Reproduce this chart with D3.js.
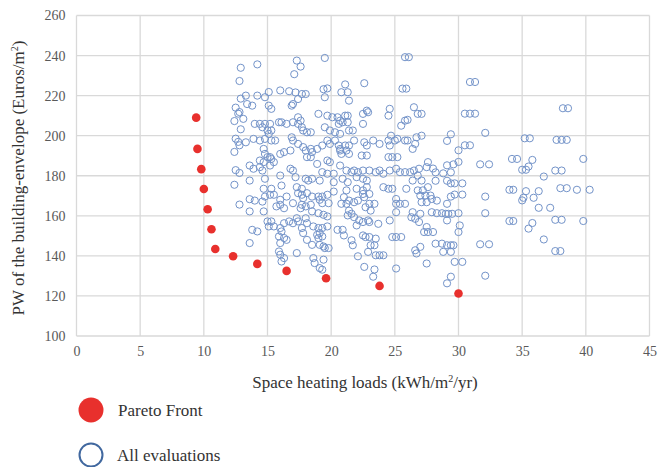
<!DOCTYPE html>
<html>
<head>
<meta charset="utf-8">
<script src="https://cdn.jsdelivr.net/npm/d3@7"></script>
<style>
  body { margin: 0; background: #fff; }
  svg { font-family: "Liberation Serif", "Times New Roman", serif; }
</style>
</head>
<body>
<svg id="chart" width="666" height="467"></svg>
<script>
const xTicks = [0, 5, 10, 15, 20, 25, 30, 35, 40, 45]
const yTicks = [100, 120, 140, 160, 180, 200, 220, 240, 260]

// red dots
const paretoFront = [
  [9.4, 209.0], [9.5, 193.4], [9.8, 183.3], [10.0, 173.4], [10.3, 163.3],
  [10.6, 153.3], [10.9, 143.4], [12.3, 139.8], [14.2, 136.0], [16.5, 132.5],
  [19.6, 128.8], [23.8, 125.0], [30.0, 121.2]
]

// hollow circles, split by load band
const evalsLow = [
  [12.9,233.9],[12.8,227.3],[12.9,218.5],[12.5,214.0],[12.8,211.8],[12.7,211.0],[12.4,207.3],[12.9,203.2],
  [12.5,198.5],[12.7,196.9],[12.8,195.2],[12.4,191.9],[12.5,182.8],[12.8,181.4],[12.4,175.5],[12.8,165.6],
  [14.2,235.6],[15.1,221.8],[16.0,222.6],[17.3,237.5],[17.6,234.5],[17.1,230.7],[19.5,238.8],[19.7,223.6],
  [19.4,223.2],[16.7,222.2],[17.2,221.6],
  [13.3,220.0],[14.2,220.0],[14.8,219.2],[13.4,215.8],[13.8,215.0],[15.1,215.0],[15.3,213.4],[16.9,215.0],
  [17.0,215.8],[17.4,218.3],[17.7,220.8],[18.0,220.8],[19.5,219.2],[19.0,210.9],[19.7,210.0],[20.1,209.2],
  [20.5,209.2],[20.6,205.9],[13.1,208.4],[14.0,205.9],[14.4,205.9],[14.6,204.2],[14.8,205.9],[15.2,205.9],
  [15.0,202.6],[15.1,200.9],[15.3,202.6],[15.9,206.7],[16.1,206.7],[16.5,205.9],[17.0,206.7],[17.4,205.9],
  [17.7,204.2],[17.8,202.6],[18.1,201.7],[18.4,201.7],[17.4,209.2],[17.6,207.5],[19.5,204.2],[19.9,202.6],
  [20.3,201.7],[20.7,200.9],[13.3,196.7],[13.9,198.4],[14.4,197.6],[14.8,198.4],[15.3,197.6],[15.6,197.6],
  [16.9,199.2],[17.0,197.6],[17.4,195.9],[17.8,194.3],[18.0,192.6],[18.4,193.4],[18.5,191.8],[18.9,193.4],
  [19.3,195.1],[19.7,197.6],[19.9,195.9],[20.3,197.6],[20.6,195.1],[20.7,192.6],[14.7,193.4],[14.8,190.9],
  [15.0,189.3],[15.2,189.3],[15.3,188.4],[15.5,186.8],[15.2,185.1],[16.0,190.9],[16.3,191.8],[16.8,192.6],
  [14.4,187.6],[14.7,186.8],[14.6,182.6],[14.4,184.3],[13.9,183.5],[13.6,185.1],[16.8,183.5],[17.0,182.6],
  [18.1,189.3],[18.4,189.3],[18.9,185.9],[19.7,187.6],[19.9,186.8],[19.3,181.8],[19.7,181.0],[20.2,181.0],
  [13.6,177.6],[14.8,178.5],[14.7,173.5],[15.3,173.5],[16.0,180.1],[16.1,175.1],[17.2,179.3],[17.3,174.3],
  [17.7,173.5],[18.0,178.5],[18.2,177.6],[18.5,178.5],[19.1,177.6],[20.2,176.8],
  [13.6,168.3],[14.0,167.6],[14.6,167.1],[14.8,169.6],[15.2,170.5],[15.5,170.5],[16.0,165.5],[16.3,163.8],
  [15.7,164.7],[16.5,169.6],[17.4,171.3],[17.7,170.5],[17.8,168.8],[18.1,171.3],[18.5,169.6],[19.0,169.6],
  [19.3,169.6],[19.1,168.0],[19.3,166.3],[19.7,170.5],[19.8,166.3],[20.2,172.1],[17.7,165.5],[18.0,164.7],
  [18.4,165.5],[18.5,162.2],[19.0,161.3],[19.4,160.5],[19.7,159.7],[13.6,162.2],[14.7,162.2],[16.0,168.0],
  [17.0,166.3],[17.6,163.8],[15.0,157.2],[15.3,157.2],[15.1,154.7],[15.5,154.7],[16.3,156.3],[16.7,157.2],
  [17.0,156.3],[17.3,158.8],[17.4,157.2],[18.0,158.8],[18.1,156.3],[18.6,154.7],[19.0,153.9],[19.3,153.9],
  [19.1,151.4],[18.9,150.5],[19.3,149.7],[19.7,154.7],[20.5,153.0],[13.8,153.0],[14.2,152.2],[13.6,146.4],
  [16.0,153.9],[16.1,152.2],[15.9,149.7],[16.3,148.9],[16.5,148.0],[16.0,146.4],[17.7,153.9],[17.8,151.4],
  [18.1,148.0],[18.5,145.5],[19.1,145.5],[19.4,144.7],[19.5,143.9],[19.8,143.9],[19.0,148.9],[15.9,142.2],
  [16.0,140.6],[16.3,138.9],[16.1,137.2],[17.3,141.4],[18.6,138.9],[18.7,136.4],[19.1,133.9],[19.3,133.1],
  [19.4,138.1]
]

const evalsMid = [
  [20.8,221.7],[21.3,221.7],[21.4,217.5],[22.8,212.5],[22.5,210.9],[22.9,211.7],[24.6,213.4],[24.5,210.0],
  [26.5,214.2],[26.8,210.9],[27.1,210.9],[21.1,210.0],[21.3,210.0],[20.7,207.5],[20.9,206.7],[21.3,206.7],
  [22.5,205.9],[25.5,205.0],[25.8,207.5],[26.0,207.9],[21.4,202.6],[21.7,202.6],[27.1,200.0],[20.7,193.4],
  [21.1,195.1],[21.4,195.1],[21.2,192.6],[20.8,190.9],[21.4,190.9],[21.8,197.6],[22.6,196.7],[22.8,195.1],
  [23.3,197.6],[23.8,195.9],[24.5,197.6],[24.6,195.1],[25.0,197.6],[25.2,198.4],[24.7,200.0],[25.8,197.6],
  [26.0,197.6],[26.7,199.2],[26.6,195.9],[26.4,193.4],[22.4,190.1],[22.8,190.1],[24.5,189.3],[24.8,189.3],
  [25.2,189.3],[27.6,186.8],[27.5,184.3],[26.9,183.5],[26.5,182.6],[26.2,181.8],[25.8,181.8],[26.8,180.1],
  [26.4,177.6],[27.1,177.6],[20.7,185.1],[21.2,182.6],[21.6,181.8],[21.8,182.6],[22.1,181.8],[22.5,182.6],
  [23.0,182.6],[23.5,181.8],[23.8,182.6],[24.1,181.0],[24.6,182.6],[25.1,183.5],[25.4,181.8],[20.9,178.5],
  [21.3,176.8],[22.0,179.3],[22.5,178.5],[22.8,177.6],[24.1,174.3],[24.5,173.5],[24.8,173.5],[21.2,172.7],
  [22.0,173.5],[22.5,172.7],[22.8,174.3],[25.9,173.5],[26.8,172.7],[27.2,172.7],[27.6,174.3],
  [21.1,225.6],[22.6,226.2],[21.0,169.3],[21.4,167.6],[21.8,166.8],[22.1,167.6],[21.2,166.0],[20.8,166.0],
  [22.5,170.9],[23.0,170.9],[22.6,169.3],[21.4,162.6],[21.6,161.0],[21.3,160.2],[21.8,159.3],[22.2,157.7],
  [22.5,156.9],[22.9,157.7],[23.0,156.9],[22.0,155.2],[23.7,156.0],[20.9,153.0],[21.0,150.2],[21.6,147.8],
  [21.7,145.3],[22.5,150.2],[22.7,149.4],[23.0,149.4],[23.5,148.6],[23.1,145.3],[23.4,145.3],[22.1,139.8],
  [22.9,142.0],[23.5,140.3],[23.8,140.3],[24.1,140.3],[22.6,134.5],[23.4,133.2],[23.3,129.6],[24.6,157.7],
  [25.1,161.8],[25.1,168.4],[25.1,166.0],[24.8,149.4],[25.1,149.4],[25.1,133.7],[23.0,166.0],[23.4,166.0],
  [23.1,162.6],[22.7,164.3]
]

const evalsHigh = [
  [25.8,239.2],[26.1,239.2],[30.9,226.8],[31.3,226.8],[25.6,223.5],[25.9,223.5],[30.5,211.0],[30.9,211.0],
  [31.3,211.0],[29.4,200.7],[29.1,197.4],[32.1,201.4],[30.5,195.2],[30.9,195.2],[30.0,192.7],[30.0,186.9],
  [31.7,185.7],[32.4,185.7],[28.0,183.6],[29.1,185.2],[29.6,185.7],[28.2,181.7],[28.8,181.2],[29.4,181.7],
  [28.2,177.5],[29.1,177.5],[29.4,176.2],[29.7,176.2],[30.3,176.2],[32.1,169.6],[29.7,170.6],[30.3,170.6],
  [27.0,170.1],[27.4,170.1],[27.8,170.1],[27.9,168.4],[27.5,166.8],[27.1,166.8],[28.3,167.6],[29.4,169.6],
  [29.1,166.0],[25.4,166.0],[25.8,166.0],[26.4,161.8],[26.3,159.3],[26.6,158.5],[27.0,161.0],[26.9,156.9],
  [27.9,161.8],[28.3,161.3],[28.7,161.3],[29.0,161.0],[29.2,161.0],[29.5,161.0],[30.0,161.3],[29.1,157.7],
  [32.1,161.3],[27.3,151.9],[27.6,151.9],[28.0,151.9],[27.5,154.4],[30.0,151.9],[30.1,155.2],[25.5,149.4],
  [28.2,146.1],[28.7,146.1],[29.1,145.3],[29.4,145.3],[29.6,145.3],[26.6,142.8],[26.7,141.2],[27.0,144.5],
  [28.8,142.0],[29.4,142.0],[31.7,145.8],[32.4,145.8],[27.5,136.2],[29.7,137.0],[30.3,137.0],[29.4,129.6],
  [29.1,126.3],[32.1,130.1],
  [38.2,213.7],[38.6,213.7],[35.2,198.7],[35.6,198.7],[37.7,197.9],[38.1,197.9],[38.5,197.9],[34.2,188.4],
  [34.6,188.4],[35.8,187.9],[39.8,188.4],[35.0,183.0],[35.3,183.0],[35.5,184.6],[37.6,182.6],[38.1,182.6],
  [36.7,179.6],[34.0,173.0],[34.3,173.0],[35.3,172.3],[36.3,172.3],[35.9,169.0],[38.0,173.8],[38.5,173.8],
  [39.3,173.0],[40.3,173.0],[35.1,169.0],[35.0,167.7],[36.3,164.0],[37.2,164.0],[34.0,157.4],[34.3,157.4],
  [35.8,156.4],[35.5,153.6],[37.6,158.0],[38.1,158.0],[39.8,157.4],[36.7,148.2],[37.6,142.4],[38.0,142.4]
]

const allEvaluations = evalsLow.concat(evalsMid, evalsHigh)

const svg = d3.select('#chart')
const plotLeft = 76.5, plotRight = 649.5, plotTop = 15.5, plotBottom = 336

const xScale = d3.scaleLinear().domain([0, 45]).range([plotLeft, plotRight])
const yScale = d3.scaleLinear().domain([100, 260]).range([plotBottom, plotTop])

// grid
svg.append('g').selectAll('line')
  .data(xTicks).enter().append('line')
  .attr('x1', d => xScale(d)).attr('x2', d => xScale(d))
  .attr('y1', plotTop).attr('y2', plotBottom)
  .attr('stroke', '#d9d9d9').attr('stroke-width', 1.3)

svg.append('g').selectAll('line')
  .data(yTicks).enter().append('line')
  .attr('x1', plotLeft).attr('x2', plotRight)
  .attr('y1', d => yScale(d)).attr('y2', d => yScale(d))
  .attr('stroke', '#d9d9d9').attr('stroke-width', 1.3)

const xAxis = d3.axisBottom(xScale).tickValues(xTicks).tickSize(0).tickPadding(10)
const yAxis = d3.axisLeft(yScale).tickValues(yTicks).tickSize(0).tickPadding(11)

const gx = svg.append('g')
  .attr('transform', `translate(0, ${plotBottom})`)
  .call(xAxis)
const gy = svg.append('g')
  .attr('transform', `translate(${plotLeft}, 0)`)
  .call(yAxis)

;[gx, gy].forEach(g => {
  g.select('.domain').remove()
  g.selectAll('text')
    .attr('font-family', '"Liberation Serif", serif')
    .attr('font-size', 14)
    .attr('fill', '#595959')
})

// all evaluations
svg.append('g').selectAll('circle')
  .data(allEvaluations).enter().append('circle')
  .attr('cx', d => xScale(d[0]))
  .attr('cy', d => yScale(d[1]))
  .attr('r', 3.6)
  .attr('fill', 'none')
  .attr('stroke', '#7393c9')
  .attr('stroke-width', 1)

// pareto front
svg.append('g').selectAll('circle')
  .data(paretoFront).enter().append('circle')
  .attr('cx', d => xScale(d[0]))
  .attr('cy', d => yScale(d[1]))
  .attr('r', 4.3)
  .attr('fill', '#e8302d')

// axis titles
const xTitle = svg.append('text')
  .attr('x', 365).attr('y', 388)
  .attr('text-anchor', 'middle')
  .attr('font-size', 17).attr('fill', '#333')
xTitle.append('tspan').text('Space heating loads (kWh/m')
xTitle.append('tspan').text('2').attr('font-size', 10).attr('dy', -6)
xTitle.append('tspan').text('/yr)').attr('dy', 6)

const yTitle = svg.append('text')
  .attr('transform', 'translate(24, 178) rotate(-90)')
  .attr('text-anchor', 'middle')
  .attr('font-size', 17).attr('fill', '#333')
yTitle.append('tspan').text('PW of the building-envelope (Euros/m')
yTitle.append('tspan').text('2').attr('font-size', 10).attr('dy', -6)
yTitle.append('tspan').text(')').attr('dy', 6)

// legend
const legend = svg.append('g')
legend.append('circle')
  .attr('cx', 91).attr('cy', 410).attr('r', 12.5)
  .attr('fill', '#e8302d')
legend.append('text')
  .attr('x', 118).attr('y', 416)
  .attr('font-size', 17).attr('fill', '#333')
  .text('Pareto Front')
legend.append('circle')
  .attr('cx', 91).attr('cy', 455).attr('r', 11.5)
  .attr('fill', 'none')
  .attr('stroke', '#41689f').attr('stroke-width', 2)
legend.append('text')
  .attr('x', 117).attr('y', 461)
  .attr('font-size', 17).attr('fill', '#333')
  .text('All evaluations')
</script>
</body>
</html>
